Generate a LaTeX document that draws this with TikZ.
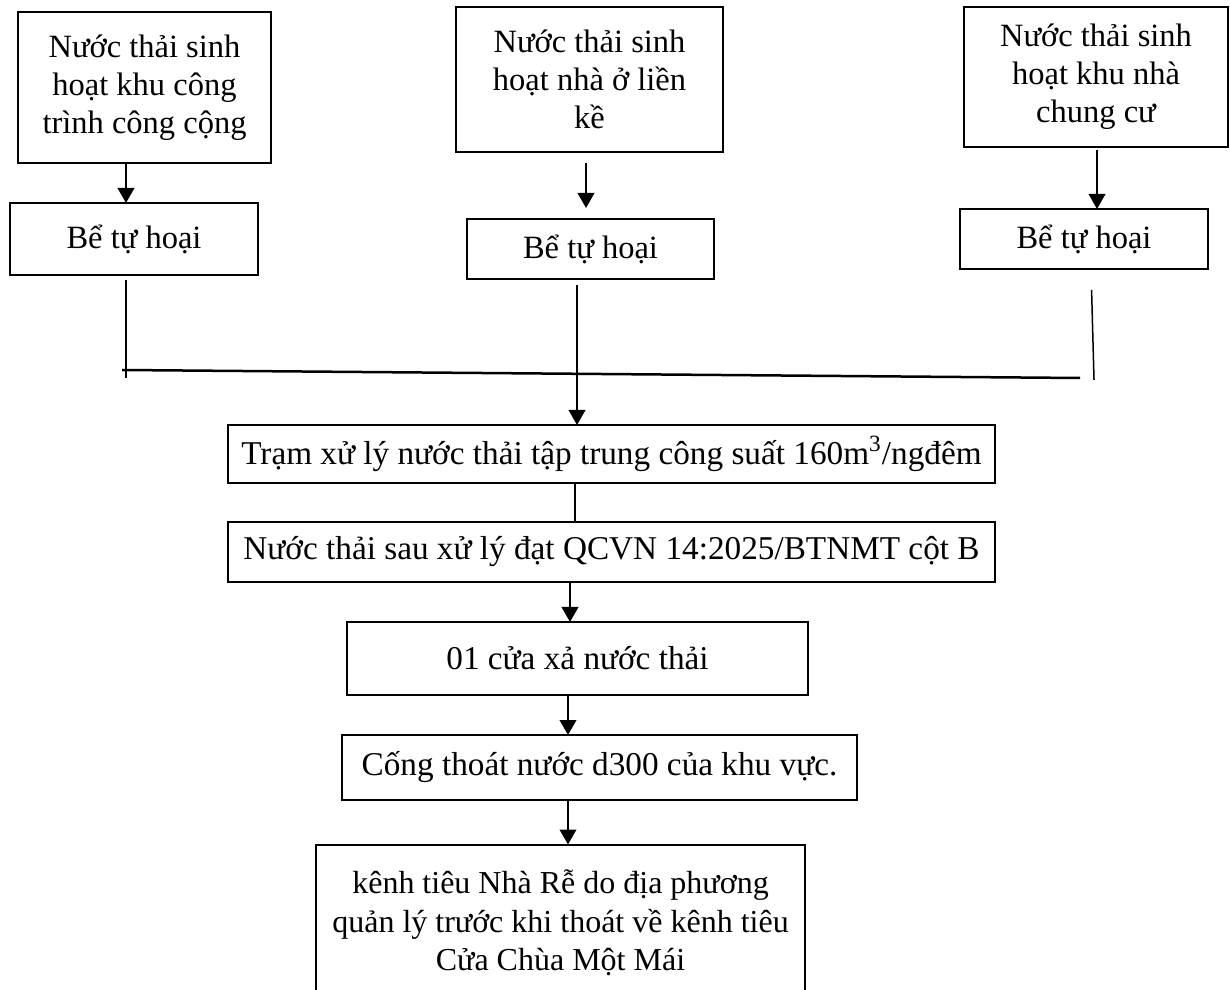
\documentclass[tikz,border=0pt]{standalone}
\usepackage{fontspec}
\setmainfont{Liberation Serif}
\usetikzlibrary{arrows.meta}

\begin{document}
\begin{tikzpicture}[x=0.4pt,y=-0.4pt,
  font=\fontsize{13}{15.2}\selectfont,
  box/.style={draw,line width=0.8pt,inner sep=0pt,outer sep=0pt,align=center},
  wide/.style={box,font=\fontsize{13.3}{15.4}\selectfont},
  arr/.style={line width=0.9pt,-{Triangle[length=6pt,width=6.6pt]}},
  ln/.style={line width=0.6pt}]
\clip (0,0) rectangle (1230,990);

\node[box,minimum width=101.2pt,minimum height=60.4pt] (src1) at (144.5,87.5) {Nước thải sinh\\hoạt khu công\\trình công cộng};
\node[box,minimum width=106.8pt,minimum height=58pt] (src2) at (589.5,79.5) {Nước thải sinh\\hoạt nhà ở liền\\kề};
\node[box,minimum width=105.6pt,minimum height=56pt] (src3) at (1096,77) {Nước thải sinh\\hoạt khu nhà\\chung cư};

\node[box,minimum width=99.2pt,minimum height=28.8pt] (be1) at (134,239) {Bể tự hoại};
\node[box,minimum width=98.8pt,minimum height=24pt] (be2) at (590.5,249) {Bể tự hoại};
\node[box,minimum width=99.2pt,minimum height=24pt] (be3) at (1084,239) {Bể tự hoại};

\node[wide,minimum width=306.8pt,minimum height=23.2pt] (tram) at (611.5,454) {Trạm xử lý nước thải tập trung công suất 160m\textsuperscript{3}/ngđêm};
\node[wide,minimum width=306.8pt,minimum height=24pt] (sau) at (611.5,552) {Nước thải sau xử lý đạt QCVN 14:2025/BTNMT cột B};
\node[wide,minimum width=184.4pt,minimum height=29.2pt] (cuaxa) at (577.5,658.5) {01 cửa xả nước thải};
\node[wide,minimum width=206pt,minimum height=26pt] (cong) at (599.5,767.5) {Cống thoát nước d300 của khu vực.};
\node[box,font=\fontsize{12.8}{15.4}\selectfont,minimum width=195.6pt,minimum height=62.8pt] (kenh) at (560.5,923) {kênh tiêu Nhà Rễ do địa phương\\quản lý trước khi thoát về kênh tiêu\\Cửa Chùa Một Mái};

\coordinate (c1) at (126,0);
\coordinate (c2) at (586,0);
\coordinate (c3) at (1097,0);
\coordinate (m1) at (577,0);
\coordinate (m2) at (575,0);
\coordinate (m3) at (570,0);
\coordinate (m4) at (568,0);
\coordinate (j1) at (126,378);
\coordinate (h1) at (122,370);
\coordinate (h2) at (1080,378);
\coordinate (r1) at (1091,0);
\coordinate (r2) at (1094,380);

\draw[arr] (src1.south -| c1) -- (be1.north -| c1);
\draw[arr,shorten <=4.4pt,shorten >=4.4pt] (src2.south -| c2) -- (be2.north -| c2);
\draw[arr,shorten <=1.2pt] (src3.south -| c3) -- (be3.north -| c3);

\draw[ln,shorten <=2pt] (be1.south -| c1) -- (j1);
\draw[line width=1pt] (h1) -- (h2);
\draw[ln,shorten <=8.4pt] (be3.south -| r1) -- (r2);
\draw[arr,shorten <=2.4pt] (be2.south -| m1) -- (tram.north -| m1);

\draw[ln] (tram.south -| m2) -- (sau.north -| m2);
\draw[arr] (sau.south -| m3) -- (cuaxa.north -| m3);
\draw[arr] (cuaxa.south -| m4) -- (cong.north -| m4);
\draw[arr] (cong.south -| m4) -- (kenh.north -| m4);
\end{tikzpicture}
\end{document}
